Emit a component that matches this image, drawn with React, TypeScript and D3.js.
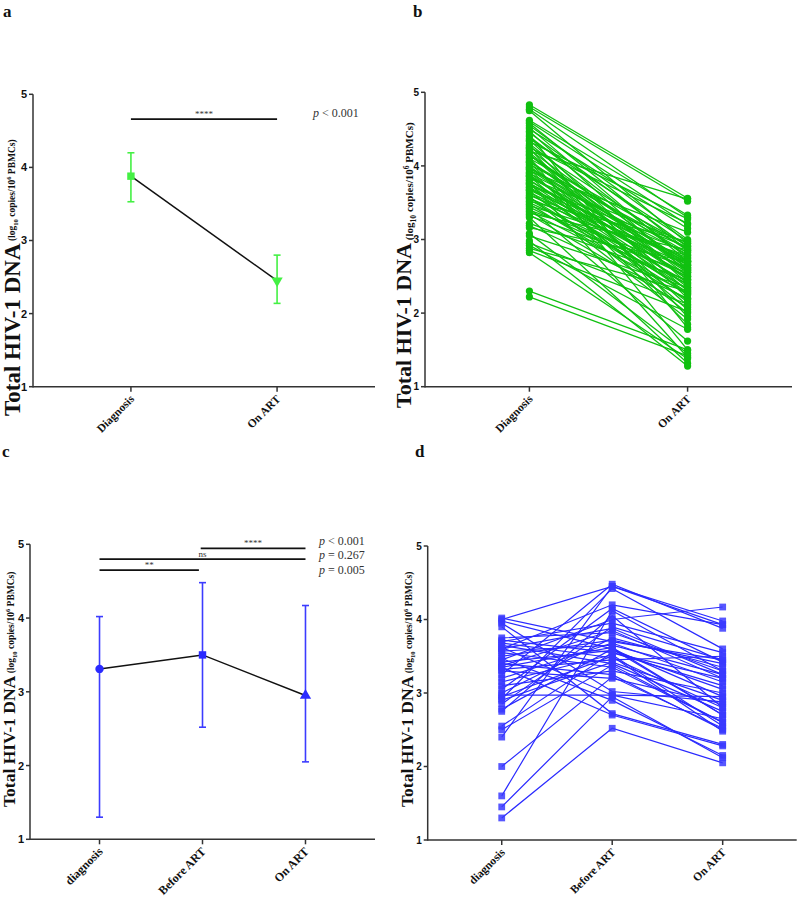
import React from "react";
import * as d3 from "d3";

// ---------- DATA ----------
const yTicks = [1, 2, 3, 4, 5];

// Panel a (summary, 2 time points)
const catsA = ["Diagnosis", "On ART"];
const meanA = [3.88, 2.45];
const lowA = [3.53, 2.14];
const highA = [4.2, 2.8];
const sigA = [{ from: 0, to: 1, y: 4.66, label: "****" }];
const pTextA = ["p < 0.001"];

// Panel b (paired individual values)
const catsB = ["Diagnosis", "On ART"];
const diagB = [
  4.83, 4.8, 4.77, 4.75, 4.62, 4.6, 4.58, 4.55, 4.52, 4.5, 4.47, 4.45, 4.42, 4.4,
  4.37, 4.35, 4.33, 4.3, 4.28, 4.26, 4.24, 4.22, 4.2, 4.18, 4.16, 4.14, 4.12, 4.1,
  4.08, 4.06, 4.04, 4.02, 4.0, 3.98, 3.96, 3.95, 3.93, 3.91, 3.9, 3.88, 3.86, 3.85,
  3.83, 3.81, 3.8, 3.78, 3.76, 3.75, 3.73, 3.71, 3.7, 3.68, 3.66, 3.64, 3.62, 3.6,
  3.58, 3.56, 3.54, 3.52, 3.5, 3.48, 3.46, 3.44, 3.42, 3.4, 3.38, 3.36, 3.34, 3.32,
  3.3, 3.22, 3.19, 3.16, 3.08, 3.05, 2.98, 2.95, 2.92, 2.88, 2.85, 2.82, 2.3, 2.22,
  3.97, 4.05, 4.15, 3.87, 3.77, 3.67, 3.57, 4.25,
];
const artB = [
  3.56, 3.52, 3.3, 2.95, 3.33, 3.2, 2.85, 3.0, 2.7, 3.15, 2.55, 2.9, 1.8, 2.75,
  2.98, 2.4, 3.28, 2.6, 2.2, 2.85, 1.95, 2.65, 3.55, 2.5, 2.3, 2.78, 1.5, 2.92,
  2.45, 2.62, 2.1, 2.88, 2.35, 2.7, 1.85, 2.55, 3.1, 2.25, 2.8, 2.48, 2.05, 2.68,
  2.95, 2.38, 2.58, 1.4, 2.72, 2.15, 2.9, 2.52, 2.28, 2.83, 2.0, 2.6, 2.42, 2.75,
  1.92, 2.66, 2.33, 2.97, 2.5, 2.18, 2.78, 2.4, 1.62, 2.62, 2.27, 2.86, 2.08, 2.55,
  1.32, 2.45, 2.2, 2.7, 1.45, 2.35, 1.28, 2.12, 1.78, 2.3, 2.02, 1.38, 1.5, 1.42,
  2.65, 2.82, 2.58, 2.46, 2.32, 2.7, 2.25, 3.22,
];

// Panel c (summary, 3 time points)
const catsC = ["diagnosis", "Before ART", "On ART"];
const meanC = [3.31, 3.5, 2.95];
const lowC = [1.3, 2.52, 2.05];
const highC = [4.02, 4.48, 4.17];
const sigC = [
  { from: 0, to: 1, y: 4.65, label: "**" },
  { from: 0, to: 2, y: 4.8, label: "ns" },
  { from: 1, to: 2, y: 4.945, label: "****" },
];
const pTextC = ["p < 0.001", "p = 0.267", "p = 0.005"];

// Panel d (individual values at 3 time points)
const catsD = ["diagnosis", "Before ART", "On ART"];
const diagD = [
  4.0, 3.98, 3.95, 3.9, 4.02, 3.75, 3.72, 3.7, 3.68, 3.65, 3.62, 3.6, 3.57, 3.55,
  3.5, 3.47, 3.45, 3.42, 3.4, 3.37, 3.35, 3.32, 3.3, 3.25, 3.2, 3.15, 3.1, 3.05,
  3.0, 2.97, 2.95, 2.92, 2.9, 2.85, 2.78, 2.75, 2.55, 2.5, 2.4, 2.0, 1.6, 1.45,
  1.3, 3.35, 3.6,
];
const beforeD = [
  4.45, 3.6, 3.02, 2.72, 3.7, 3.82, 3.55, 3.95, 3.48, 3.4, 2.97, 4.2, 3.65, 3.35,
  3.72, 2.9, 4.0, 3.58, 3.25, 3.85, 3.62, 3.45, 3.2, 4.48, 3.68, 3.52, 3.3, 4.15,
  3.75, 2.97, 3.5, 4.42, 3.42, 3.9, 3.6, 4.05, 3.55, 3.38, 4.45, 3.22, 4.12, 2.95,
  2.52, 2.7, 3.88,
];
const onArtD = [
  3.98, 2.95, 2.88, 2.3, 3.45, 3.3, 3.1, 3.55, 2.8, 2.75, 2.95, 3.93, 3.25, 2.6,
  3.4, 2.15, 4.17, 3.05, 2.5, 3.2, 2.7, 3.5, 2.85, 3.88, 3.15, 2.55, 3.0, 3.42,
  3.35, 2.65, 2.48, 3.6, 2.9, 3.45, 2.7, 2.8, 3.2, 2.6, 3.93, 2.52, 3.3, 2.12,
  2.05, 2.28, 3.25,
];

// ---------- STYLE ----------
const SERIF = "'Liberation Serif', 'Times New Roman', serif";
const SANS = "'Liberation Sans', Arial, sans-serif";
const AXIS = "#333";
const GREEN_BAR = "#44f044";
const GREEN_PTS = "#10c010";
const BLUE_BAR = "#3c3cff";
const BLUE_PTS = "#2a2aff";

type Frame = {
  x0: number; x1: number; yTop: number; yBot: number; pad: number;
  tickSize: number; catSize: number;
};

function makeScales(f: Frame, cats: string[]) {
  const x = d3.scalePoint<string>().domain(cats).range([f.x0, f.x1]).padding(f.pad);
  const y = d3.scaleLinear().domain([1, 5]).range([f.yBot, f.yTop]);
  return { x, y };
}

function Axes({ f, cats, x, y }: { f: Frame; cats: string[]; x: any; y: any }) {
  return (
    <g>
      <line x1={f.x0} x2={f.x0} y1={y(1) + 0.75} y2={y(5)} stroke={AXIS} strokeWidth={1.5} />
      <line x1={f.x0} x2={f.x1} y1={y(1)} y2={y(1)} stroke={AXIS} strokeWidth={1.5} />
      {yTicks.map((t) => (
        <g key={t}>
          <line x1={f.x0 - 4} x2={f.x0} y1={y(t)} y2={y(t)} stroke={AXIS} strokeWidth={1.5} />
          <text x={f.x0 - 6} y={y(t)} dy="0.36em" textAnchor="end" fontFamily={SANS}
            fontWeight="bold" fontSize={f.tickSize} fill="#111">{t}</text>
        </g>
      ))}
      {cats.map((c) => (
        <g key={c}>
          <line x1={x(c)} x2={x(c)} y1={y(1)} y2={y(1) + 5} stroke={AXIS} strokeWidth={1.5} />
          <text transform={`translate(${x(c) + 4},${y(1) + 13}) rotate(-45)`} textAnchor="end"
            fontFamily={SERIF} fontWeight="bold" fontSize={f.catSize} fill="#111">{c}</text>
        </g>
      ))}
    </g>
  );
}

function YTitle({ x, y, big, small, subDy }: { x: number; y: number; big: number; small: number; subDy: number }) {
  return (
    <text transform={`translate(${x},${y}) rotate(-90)`} fontFamily={SERIF} fontWeight="bold" fill="#111">
      <tspan fontSize={big}>Total HIV-1 DNA</tspan>
      <tspan fontSize={small} dy={subDy}>{"  (log"}</tspan>
      <tspan fontSize={small * 0.7} dy={small * 0.3}>10</tspan>
      <tspan fontSize={small} dy={-small * 0.3}>{" copies/10"}</tspan>
      <tspan fontSize={small * 0.7} dy={-small * 0.4}>6</tspan>
      <tspan fontSize={small} dy={small * 0.4}>{" PBMCs)"}</tspan>
    </text>
  );
}

function PanelLabel({ x, y, t }: { x: number; y: number; t: string }) {
  return (
    <text x={x} y={y} fontFamily={SERIF} fontWeight="bold" fontSize={17} fill="#111">{t}</text>
  );
}

function PText({ x, y, t }: { x: number; y: number; t: string }) {
  const rest = t.slice(1);
  return (
    <text x={x} y={y} fontFamily={SERIF} fontSize={12} fill="#333">
      <tspan fontStyle="italic">p</tspan>
      <tspan>{rest}</tspan>
    </text>
  );
}

function ErrorBars({ cats, mean, low, high, x, y, color, symbols, markColor, msize }: any) {
  const line = d3.line<number>()
    .x((_, i) => x(cats[i]))
    .y((d) => y(d));
  return (
    <g>
      {cats.map((c: string, i: number) => (
        <g key={c} stroke={color} strokeWidth={1.6}>
          <line x1={x(c)} x2={x(c)} y1={y(low[i])} y2={y(high[i])} />
          <line x1={x(c) - 3.5} x2={x(c) + 3.5} y1={y(low[i])} y2={y(low[i])} />
          <line x1={x(c) - 3.5} x2={x(c) + 3.5} y1={y(high[i])} y2={y(high[i])} />
        </g>
      ))}
      <path d={line(mean) as string} fill="none" stroke="#111" strokeWidth={1.5} />
      {cats.map((c: string, i: number) => {
        const s = symbols[i];
        const p = d3.symbol().type(s.type).size(msize)();
        return (
          <path key={c} d={p as string} fill={markColor}
            transform={`translate(${x(c)},${y(mean[i])}) rotate(${s.rot || 0})`} />
        );
      })}
    </g>
  );
}

function SigBars({ sigs, cats, x, y, gap }: any) {
  return (
    <g>
      {sigs.map((s: any, i: number) => {
        const x1 = x(cats[s.from]) + (s.from > 0 ? -gap : 0);
        const x2 = x(cats[s.to]) - (s.to < cats.length - 1 ? gap * 2 : 0);
        return (
          <g key={i}>
            <line x1={x1} x2={x2} y1={y(s.y)} y2={y(s.y)} stroke="#111" strokeWidth={1.8} />
            <text x={(x1 + x2) / 2} y={y(s.y) - 2.5} textAnchor="middle" fontFamily={SERIF}
              fontSize={9} fill="#333">{s.label}</text>
          </g>
        );
      })}
    </g>
  );
}

export default function App() {
  const fA: Frame = { x0: 33, x1: 375, yTop: 94.3, yBot: 386.7, pad: 0.67, tickSize: 11, catSize: 11.5 };
  const fB: Frame = { x0: 425, x1: 792, yTop: 92.3, yBot: 386.7, pad: 0.66, tickSize: 10, catSize: 11.5 };
  const fC: Frame = { x0: 30, x1: 375, yTop: 544.3, yBot: 839.3, pad: 0.675, tickSize: 11, catSize: 12 };
  const fD: Frame = { x0: 427.7, x1: 796.7, yTop: 546, yBot: 840, pad: 0.67, tickSize: 10, catSize: 11.5 };

  const sA = makeScales(fA, catsA);
  const sB = makeScales(fB, catsB);
  const sC = makeScales(fC, catsC);
  const sD = makeScales(fD, catsD);

  const pairsB = diagB.map((d, i) => [d, artB[i]]);
  const triD = diagD.map((d, i) => [d, beforeD[i], onArtD[i]]);
  const lineB = d3.line<number>().x((_, i) => sB.x(catsB[i]) as number).y((d) => sB.y(d));
  const lineD = d3.line<number>().x((_, i) => sD.x(catsD[i]) as number).y((d) => sD.y(d));
  const sq = d3.symbol().type(d3.symbolSquare).size(46)() as string;

  return (
    <svg width={798} height={900} style={{ position: "absolute", left: 0, top: 0, background: "#fff" }}>
      <rect width={798} height={900} fill="#fff" />

      {/* Panel a */}
      <PanelLabel x={3} y={17} t="a" />
      <YTitle x={20} y={416} big={23} small={9.5} subDy={-5} />
      <Axes f={fA} cats={catsA} x={sA.x} y={sA.y} />
      <SigBars sigs={sigA} cats={catsA} x={sA.x} y={sA.y} gap={0} />
      {pTextA.map((t, i) => <PText key={t} x={313} y={117 + i * 15} t={t} />)}
      <ErrorBars cats={catsA} mean={meanA} low={lowA} high={highA} x={sA.x} y={sA.y}
        color={GREEN_BAR} markColor={GREEN_BAR} msize={55}
        symbols={[{ type: d3.symbolSquare }, { type: d3.symbolTriangle, rot: 180 }]} />

      {/* Panel b */}
      <PanelLabel x={413} y={17} t="b" />
      <YTitle x={411} y={408} big={22} small={11} subDy={2} />
      <Axes f={fB} cats={catsB} x={sB.x} y={sB.y} />
      <g>
        {pairsB.map((p, i) => (
          <path key={i} d={lineB(p) as string} fill="none" stroke={GREEN_PTS} strokeWidth={1.3} />
        ))}
        {pairsB.map((p, i) =>
          p.map((v, j) => (
            <circle key={`${i}-${j}`} cx={sB.x(catsB[j])} cy={sB.y(v)} r={3.6} fill={GREEN_PTS} />
          ))
        )}
      </g>

      {/* Panel c */}
      <PanelLabel x={2} y={457} t="c" />
      <YTitle x={15} y={807} big={17.5} small={9.5} subDy={-1} />
      <Axes f={fC} cats={catsC} x={sC.x} y={sC.y} />
      <SigBars sigs={sigC} cats={catsC} x={sC.x} y={sC.y} gap={1.8} />
      {pTextC.map((t, i) => <PText key={t} x={319} y={544.5 + i * 14.8} t={t} />)}
      <ErrorBars cats={catsC} mean={meanC} low={lowC} high={highC} x={sC.x} y={sC.y}
        color={BLUE_BAR} markColor={BLUE_PTS} msize={55}
        symbols={[{ type: d3.symbolCircle }, { type: d3.symbolSquare }, { type: d3.symbolTriangle }]} />

      {/* Panel d */}
      <PanelLabel x={415} y={457} t="d" />
      <YTitle x={413} y={807} big={17.5} small={9.5} subDy={-1} />
      <Axes f={fD} cats={catsD} x={sD.x} y={sD.y} />
      <g>
        {triD.map((p, i) => (
          <path key={i} d={lineD(p) as string} fill="none" stroke={BLUE_PTS} strokeWidth={1.2} />
        ))}
        {triD.map((p, i) =>
          p.map((v, j) => (
            <path key={`${i}-${j}`} d={sq} fill="#3a3aff" fillOpacity={0.85}
              transform={`translate(${sD.x(catsD[j])},${sD.y(v)})`} />
          ))
        )}
      </g>
    </svg>
  );
}
